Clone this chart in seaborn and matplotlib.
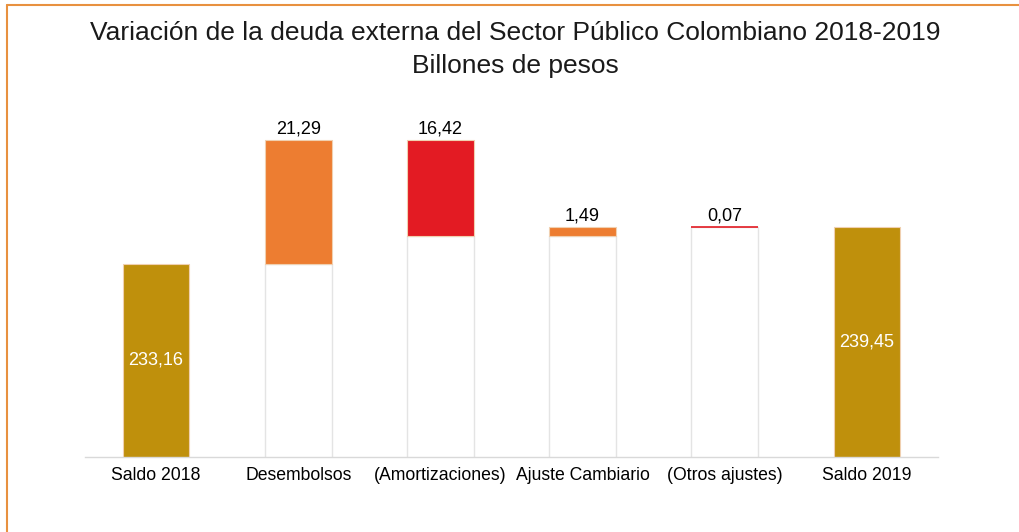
import numpy as np
import matplotlib
matplotlib.use("Agg")
import matplotlib.pyplot as plt
import seaborn as sns
from matplotlib.lines import Line2D

categories = ["Saldo 2018", "Desembolsos", "(Amortizaciones)", "Ajuste Cambiario", "(Otros ajustes)", "Saldo 2019"]
start_value = 233.16
changes = [21.29, -16.42, 1.49, -0.07]
end_value = 239.45
labels = ["233,16", "21,29", "16,42", "1,49", "0,07", "239,45"]
bar_colors = ["#BF900C", "#ED7D31", "#E31B23", "#ED7D31", "#E31B23", "#BF900C"]

# waterfall geometry from the values
levels = np.concatenate([[start_value], start_value + np.cumsum(changes)])
tops = [start_value]
bases = [0.0]
for i, c in enumerate(changes):
    tops.append(max(levels[i], levels[i + 1]))
    bases.append(min(levels[i], levels[i + 1]))
tops.append(end_value)
bases.append(0.0)
heights = np.array(tops) - np.array(bases)

sns.set_theme(style="white")
plt.rcParams["font.family"] = ["Liberation Sans", "DejaVu Sans"]

fig = plt.figure(figsize=(10.2, 5.32), dpi=100)
ax = fig.add_axes([85 / 1020, 75 / 532, 853 / 1020, 357 / 532])

# invisible base bars (white with faint outline)
sns.barplot(x=categories, y=bases, color="white", width=0.47, ax=ax,
            linewidth=1.0, edgecolor="#e4e4e4", saturation=1, zorder=1)
n_base = len(ax.patches)
# floating coloured bars
sns.barplot(x=categories, y=heights, color=bar_colors[0], width=0.47, ax=ax,
            linewidth=0.8, edgecolor="#f0d0b0", saturation=1,
            bottom=np.array(bases), zorder=2)
for p, c in zip(ax.patches[n_base:], bar_colors):
    p.set_facecolor(c)
    if p.get_height() < 0.5:
        p.set_edgecolor(c)
        p.set_linewidth(1.2)

ax.set_xlim(-0.5, 5.5)
ax.set_ylim(200, 200 + 357 / 5.824)

for i, (lab, t, b) in enumerate(zip(labels, tops, bases)):
    if i in (0, len(labels) - 1):
        ax.text(i, (200 + t) / 2, lab, ha="center", va="center", color="white", fontsize=13, zorder=5)
    else:
        ax.text(i, t + 0.4, lab, ha="center", va="bottom", color="black", fontsize=13, zorder=5)

for s in ["top", "right", "left"]:
    ax.spines[s].set_visible(False)
ax.spines["bottom"].set_color("#d9d9d9")
ax.spines["bottom"].set_linewidth(1.0)
ax.set_yticks([])
ax.tick_params(axis="x", length=0, labelsize=12.7, pad=7, colors="black")
ax.set_xlabel("")
ax.set_ylabel("")

fig.text(515 / 1020, 1 - 33 / 532, "Variación de la deuda externa del Sector Público Colombiano 2018-2019",
         ha="center", va="center", fontsize=19, color="#1a1a1a")
fig.text(515 / 1020, 1 - 66 / 532, "Billones de pesos",
         ha="center", va="center", fontsize=19, color="#1a1a1a")

# frame lines
fig.add_artist(Line2D([7 / 1020, 1], [1 - 5 / 532, 1 - 5 / 532], color="#E8913F", lw=1.5, transform=fig.transFigure))
fig.add_artist(Line2D([7 / 1020, 7 / 1020], [0, 1 - 5 / 532], color="#E8913F", lw=1.5, transform=fig.transFigure))

fig.savefig("out.png", dpi=100, facecolor="white")
